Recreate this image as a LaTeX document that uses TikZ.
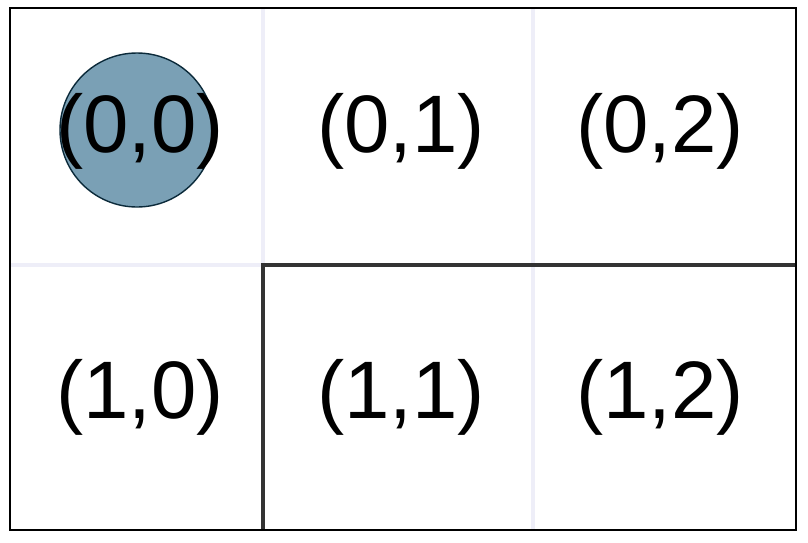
\documentclass[tikz,border=0pt]{standalone}
\usepackage{fontspec}
\setmainfont{Liberation Sans}
\definecolor{gridlav}{HTML}{EEEEF8}
\definecolor{agentfill}{HTML}{7AA0B5}
\definecolor{agentedge}{HTML}{0B2A3A}
\definecolor{wallgray}{HTML}{333333}
\begin{document}
\begin{tikzpicture}[x=0.025cm, y=-0.025cm]
\useasboundingbox[fill=white] (0,0) rectangle (808,542);
% light grid
\draw[gridlav, line width=2.5pt] (263,8) -- (263,530);
\draw[gridlav, line width=2.5pt] (533,8) -- (533,530);
\draw[gridlav, line width=2.5pt] (10,265) -- (796,265);
% agent
\node[circle, minimum size=154*0.025cm, inner sep=0pt, fill=agentfill, draw=agentedge, line width=1pt] (agent) at (137,130){};
% cell labels
\node[font=\fontsize{58}{60}\selectfont, inner sep=0pt] (c00) at (140,131){(0,0)};
\node[font=\fontsize{58}{60}\selectfont, inner sep=0pt] (c01) at (401,131){(0,1)};
\node[font=\fontsize{58}{60}\selectfont, inner sep=0pt] (c02) at (660,131){(0,2)};
\node[font=\fontsize{58}{60}\selectfont, inner sep=0pt] (c10) at (140,397){(1,0)};
\node[font=\fontsize{58}{60}\selectfont, inner sep=0pt] (c11) at (401,397){(1,1)};
\node[font=\fontsize{58}{60}\selectfont, inner sep=0pt] (c12) at (660,397){(1,2)};
% wall
\draw[wallgray, line width=2.4pt] (263,530) -- (263,265) -- (796,265);
% border
\draw[black, line width=1pt] (10,8) rectangle (796,530);
\end{tikzpicture}
\end{document}
